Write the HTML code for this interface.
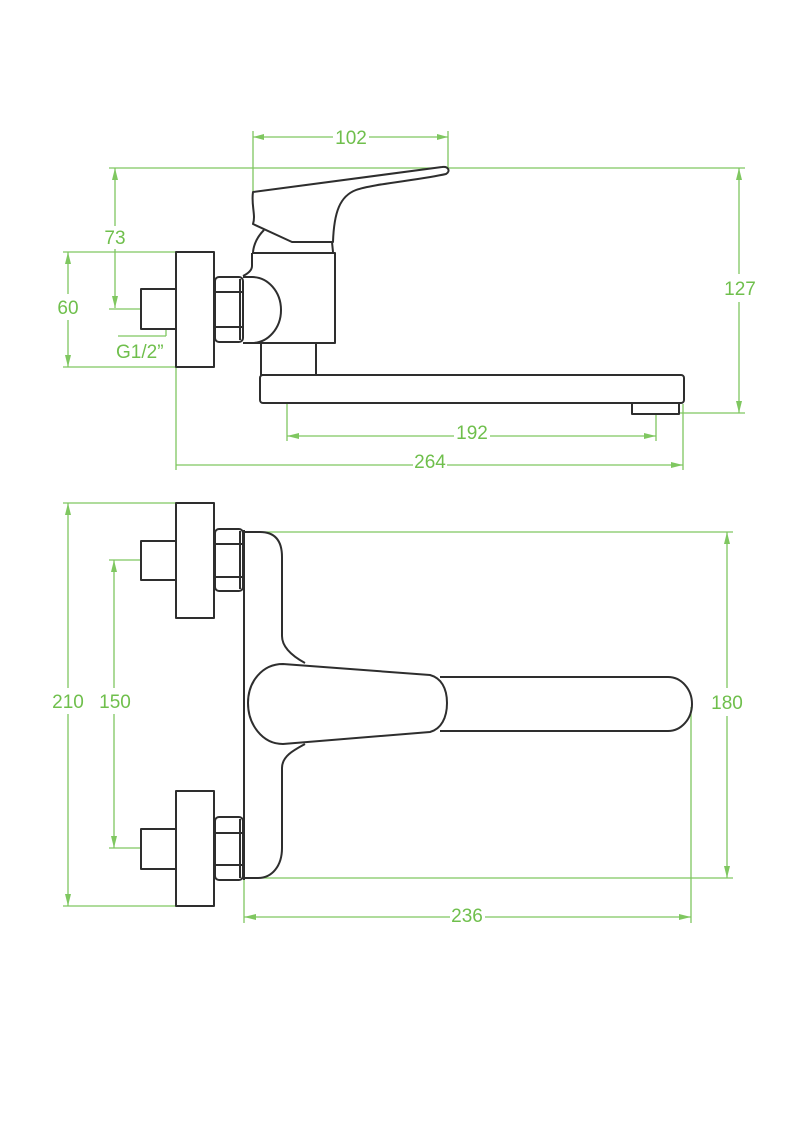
<!DOCTYPE html>
<html><head><meta charset="utf-8"><style>
html,body{margin:0;padding:0;background:#fff;}
svg{display:block;}
text{font-family:"Liberation Sans",sans-serif;font-size:19px;fill:#6fbf4c;}
</style></head><body>
<svg width="794" height="1123" viewBox="0 0 794 1123" xmlns="http://www.w3.org/2000/svg">
<rect width="794" height="1123" fill="#fff"/>
<!-- ============ GREEN DIMENSIONS ============ -->
<g stroke="#7fc760" stroke-width="1.3" fill="none">
  <!-- 102 -->
  <line x1="253" y1="131" x2="253" y2="191"/>
  <line x1="448" y1="131" x2="448" y2="170"/>
  <line x1="253" y1="137" x2="333" y2="137"/>
  <line x1="369" y1="137" x2="448" y2="137"/>
  <!-- top line -->
  <line x1="109" y1="168" x2="745" y2="168"/>
  <!-- 73 -->
  <line x1="115" y1="168" x2="115" y2="226"/>
  <line x1="115" y1="249" x2="115" y2="308"/>
  <line x1="109" y1="309" x2="141" y2="309"/>
  <!-- 60 -->
  <line x1="63" y1="252" x2="176" y2="252"/>
  <line x1="63" y1="367" x2="176" y2="367"/>
  <line x1="68" y1="252" x2="68" y2="294"/>
  <line x1="68" y1="320" x2="68" y2="367"/>
  <!-- G1/2 -->
  <line x1="166" y1="310" x2="166" y2="336"/>
  <line x1="118" y1="336" x2="166" y2="336"/>
  <!-- 127 -->
  <line x1="739" y1="168" x2="739" y2="274"/>
  <line x1="739" y1="302" x2="739" y2="413"/>
  <line x1="680" y1="413" x2="745" y2="413"/>
  <!-- 192 -->
  <line x1="287" y1="404" x2="287" y2="441"/>
  <line x1="656" y1="415" x2="656" y2="441"/>
  <line x1="287" y1="436" x2="454" y2="436"/>
  <line x1="490" y1="436" x2="656" y2="436"/>
  <!-- 264 -->
  <line x1="176" y1="367" x2="176" y2="470"/>
  <line x1="683" y1="404" x2="683" y2="470"/>
  <line x1="176" y1="465" x2="413" y2="465"/>
  <line x1="447" y1="465" x2="683" y2="465"/>
  <!-- 210 -->
  <line x1="63" y1="503" x2="176" y2="503"/>
  <line x1="63" y1="906" x2="176" y2="906"/>
  <line x1="68" y1="503" x2="68" y2="688"/>
  <line x1="68" y1="714" x2="68" y2="906"/>
  <!-- 150 -->
  <line x1="109" y1="560" x2="141" y2="560"/>
  <line x1="109" y1="848" x2="141" y2="848"/>
  <line x1="114" y1="560" x2="114" y2="688"/>
  <line x1="114" y1="714" x2="114" y2="848"/>
  <!-- 180 -->
  <line x1="245" y1="532" x2="733" y2="532"/>
  <line x1="245" y1="878" x2="733" y2="878"/>
  <line x1="727" y1="532" x2="727" y2="688"/>
  <line x1="727" y1="716" x2="727" y2="878"/>
  <!-- 236 -->
  <line x1="244" y1="878" x2="244" y2="923"/>
  <line x1="691" y1="707" x2="691" y2="923"/>
  <line x1="244" y1="917" x2="450" y2="917"/>
  <line x1="485" y1="917" x2="691" y2="917"/>
</g>
<g fill="#7fc760">
  <!-- 102 arrows -->
  <polygon points="253,137 264,134 264,140"/>
  <polygon points="448,137 437,134 437,140"/>
  <!-- 73 -->
  <polygon points="115,168 112,180 118,180"/>
  <polygon points="115,308 112,296 118,296"/>
  <!-- 60 -->
  <polygon points="68,252 65,264 71,264"/>
  <polygon points="68,367 65,355 71,355"/>
  <!-- G1/2 -->
  <polygon points="166,309 163,321 169,321"/>
  <!-- 127 -->
  <polygon points="739,168 736,180 742,180"/>
  <polygon points="739,413 736,401 742,401"/>
  <!-- 192 -->
  <polygon points="287,436 299,433 299,439"/>
  <polygon points="656,436 644,433 644,439"/>
  <!-- 264 -->
  <polygon points="683,465 671,462 671,468"/>
  <!-- 210 -->
  <polygon points="68,503 65,515 71,515"/>
  <polygon points="68,906 65,894 71,894"/>
  <!-- 150 -->
  <polygon points="114,560 111,572 117,572"/>
  <polygon points="114,848 111,836 117,836"/>
  <!-- 180 -->
  <polygon points="727,532 724,544 730,544"/>
  <polygon points="727,878 724,866 730,866"/>
  <!-- 236 -->
  <polygon points="244,917 256,914 256,920"/>
  <polygon points="691,917 679,914 679,920"/>
</g>
<!-- labels -->
<text x="351" y="144" text-anchor="middle">102</text>
<text x="115" y="244" text-anchor="middle">73</text>
<text x="68" y="314" text-anchor="middle">60</text>
<text x="116" y="358">G1/2”</text>
<text x="740" y="295" text-anchor="middle">127</text>
<text x="472" y="439" text-anchor="middle">192</text>
<text x="430" y="468" text-anchor="middle">264</text>
<text x="68" y="708" text-anchor="middle">210</text>
<text x="115" y="708" text-anchor="middle">150</text>
<text x="727" y="709" text-anchor="middle">180</text>
<text x="467" y="922" text-anchor="middle">236</text>

<!-- ============ BLACK DRAWING: SIDE VIEW ============ -->
<g stroke="#2e2e2e" stroke-width="2" fill="none" stroke-linejoin="round">
  <rect x="141" y="289" width="35" height="40" fill="#fff"/>
  <rect x="176" y="252" width="38" height="115" fill="#fff"/>
  <rect x="215" y="277" width="28" height="65" rx="4"/>
  <line x1="215" y1="292" x2="243" y2="292"/>
  <line x1="215" y1="327" x2="243" y2="327"/>
  <line x1="240" y1="279" x2="240" y2="340"/>
  <!-- body -->
  <path d="M252 253 L335 253 L335 343 L243 343"/>
  <path d="M252 253 L252 266 C252 271 247 274 243 276"/>
  <!-- dome -->
  <path d="M243 277 L252 277 A29 33 0 0 1 252 343"/>
  <!-- cap -->
  <path d="M253 252 C254 243 258 236 264 230"/>
  <line x1="332" y1="242" x2="333" y2="252"/>
  <!-- handle -->
  <path d="M253 192 L442 167 C448 166 451 171 446 174 C420 180 372 184 356 190 C340 196 334 212 333 242 L292 242 L253 224 C256 215 251 205 253 192 Z" fill="#fff"/>
  <!-- stem -->
  <rect x="261" y="343" width="55" height="32"/>
  <!-- spout -->
  <rect x="260" y="375" width="424" height="28" rx="3"/>
  <rect x="632" y="403" width="47" height="11"/>
</g>

<!-- ============ BLACK DRAWING: TOP VIEW ============ -->
<g stroke="#2e2e2e" stroke-width="2" fill="none" stroke-linejoin="round">
  <!-- upper connection -->
  <rect x="141" y="541" width="35" height="39"/>
  <rect x="176" y="503" width="38" height="115"/>
  <rect x="215" y="529" width="28" height="62" rx="4"/>
  <line x1="215" y1="544" x2="243" y2="544"/>
  <line x1="215" y1="577" x2="243" y2="577"/>
  <line x1="240" y1="531" x2="240" y2="589"/>
  <!-- lower connection -->
  <rect x="141" y="829" width="35" height="40"/>
  <rect x="176" y="791" width="38" height="115"/>
  <rect x="215" y="817" width="28" height="63" rx="4"/>
  <line x1="215" y1="833" x2="243" y2="833"/>
  <line x1="215" y1="865" x2="243" y2="865"/>
  <line x1="240" y1="819" x2="240" y2="878"/>
  <!-- plate -->
  <line x1="244" y1="530" x2="244" y2="880"/>
  <!-- body -->
  <path d="M245 532 L260 532 C276 532 282 542 282 557 L282 636 C282 648 294 657 305 663"/>
  <path d="M305 744 C294 750 282 756 282 768 L282 848 C282 866 272 878 258 878 L245 878"/>
  <!-- handle -->
  <path d="M283 664 C262 664 248 682 248 703 C248 724 262 744 283 744 L430 732 C441 729 447 718 447 703 C447 688 441 678 430 675 Z"/>
  <!-- spout -->
  <path d="M440 677 L668 677 A24 27 0 0 1 668 731 L440 731"/>
</g>
</svg>
</body></html>
